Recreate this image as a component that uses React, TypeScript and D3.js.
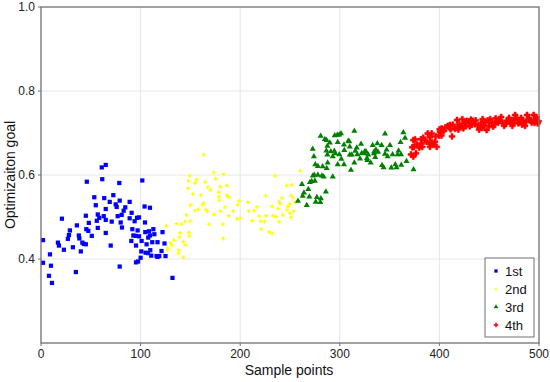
import React from "react";
import * as d3 from "d3";

type P = [number, number];

const series1: P[] = [
  [2,0.445],[2,0.391],[9,0.411],[10,0.384],[8,0.36],[11,0.343],[17,0.439],[18,0.432],[21,0.496],[23,0.422],
  [27,0.448],[28,0.457],[29,0.468],[32,0.428],[35,0.369],[36,0.48],[38,0.456],[38.5,0.449],[40,0.418],[41.5,0.439],
  [43,0.436],[45,0.435],[45,0.503],[45.5,0.471],[47.5,0.467],[48,0.486],[46,0.584],[51,0.455],[53.5,0.547],[55,0.528],
  [57,0.506],[56,0.491],[57,0.474],[58.5,0.498],[61,0.618],[65,0.624],[61.5,0.59],[63.5,0.545],[65,0.519],[63,0.502],
  [65,0.493],[65,0.462],[69,0.536],[71,0.489],[70,0.432],[72.6,0.552],[75,0.53],[76,0.524],[77,0.502],[78.6,0.581],
  [79,0.539],[80,0.487],[81,0.505],[79,0.382],[83,0.515],[84.6,0.523],[81.3,0.475],[89,0.536],[89,0.497],[91,0.51],
  [90.7,0.443],[91.7,0.471],[92.7,0.456],[94,0.49],[95,0.455],[95.4,0.432],[96.4,0.498],[97,0.468],[98.4,0.499],[98.4,0.454],
  [95.4,0.392],[97.4,0.394],[100,0.403],[100.7,0.418],[101.7,0.587],[101,0.443],[104,0.525],[104.4,0.487],[104.7,0.464],[106,0.435],
  [105,0.415],[107.7,0.451],[108.4,0.466],[109.4,0.522],[109.4,0.456],[107.4,0.414],[109.7,0.421],[111.7,0.44],[112.8,0.471],[113.8,0.459],
  [110.7,0.408],[116,0.407],[117,0.405],[118.7,0.407],[117,0.44],[122,0.464],[121,0.419],[124,0.437],[125,0.407],[132,0.355],
];

const series2: P[] = [
  [125.8,0.479],[127,0.421],[133.5,0.445],[136,0.484],[138,0.414],[138.5,0.421],[139,0.452],[139.5,0.462],[141,0.483],[143,0.404],
  [143,0.441],[144.6,0.489],[145,0.433],[146,0.505],[148.6,0.463],[149,0.455],[150,0.49],[150,0.528],[147.6,0.568],[149.3,0.598],
  [148,0.586],[152.6,0.555],[154.6,0.515],[154.6,0.581],[156,0.589],[158,0.518],[160.6,0.552],[162,0.529],[163.3,0.533],[163.3,0.648],
  [165,0.583],[165.7,0.517],[166.7,0.513],[167.4,0.571],[168.7,0.483],[170,0.564],[173.4,0.606],[173.7,0.506],[175.4,0.591],[178.4,0.559],
  [178.7,0.548],[179,0.54],[180,0.572],[180,0.514],[182.4,0.483],[183,0.449],[183.4,0.602],[185,0.524],[186.7,0.575],[186.7,0.552],
  [188.4,0.547],[188.4,0.503],[192.8,0.514],[197,0.495],[197.5,0.529],[198.8,0.538],[200,0.497],[207.8,0.535],[208.5,0.514],[212,0.491],
  [214,0.515],[216.9,0.524],[219,0.502],[221,0.471],[220.6,0.49],[224.6,0.489],[225.9,0.503],[225.6,0.551],[229,0.464],[232,0.461],
  [232,0.525],[233,0.503],[234.9,0.598],[236,0.501],[238,0.52],[239,0.489],[239,0.536],[240,0.532],[242,0.545],[242.7,0.505],
  [246.7,0.575],[247,0.517],[248,0.525],[249.7,0.531],[250,0.509],[251,0.551],[251,0.499],[251.7,0.576],[253,0.546],[253.7,0.514],
  [255,0.535],[260.3,0.61],[131.5,0.433],[127,0.426],[130,0.438],
];

const series3: P[] = [
  [258,0.538],[262,0.578],[262.7,0.55],[264,0.558],[266.8,0.528],[268.4,0.566],[269.4,0.548],[270,0.583],[271.8,0.585],[273,0.598],
  [275,0.586],[275.8,0.536],[277,0.547],[274.4,0.6],[278,0.6],[280.4,0.535],[281,0.544],[282,0.598],[283.8,0.596],[286,0.56],
  [292.9,0.596],[272.8,0.662],[274,0.644],[275.4,0.625],[278,0.621],[280.8,0.693],[282.8,0.62],[285,0.685],[286.8,0.683],[287.5,0.669],
  [286.5,0.658],[287.5,0.648],[287.8,0.629],[286.8,0.616],[290,0.677],[291,0.656],[292.9,0.644],[294.9,0.694],[294.5,0.657],[295.5,0.651],
  [297.9,0.678],[297.5,0.695],[299.5,0.696],[301.2,0.699],[297.9,0.625],[299.5,0.649],[301.5,0.638],[304.2,0.672],[304.2,0.625],[304.5,0.659],
  [308.5,0.681],[309.5,0.68],[310,0.648],[310,0.667],[311.2,0.612],[312,0.648],[314.6,0.705],[314.6,0.629],[315.6,0.657],[317.6,0.649],
  [317,0.665],[320.3,0.639],[321.3,0.674],[322,0.652],[324.6,0.651],[325,0.656],[326.3,0.656],[327.3,0.64],[327.6,0.635],[328.6,0.648],
  [331,0.629],[333,0.671],[334.3,0.651],[334.6,0.656],[335.6,0.642],[337.7,0.675],[338.4,0.655],[336.3,0.66],[342,0.671],[342.4,0.623],
  [344,0.618],[345.4,0.698],[345.4,0.65],[347,0.66],[348,0.644],[350.4,0.671],[351.7,0.617],[353,0.649],[355.7,0.625],[357,0.618],
  [358,0.649],[359,0.658],[361,0.678],[361.5,0.649],[361.7,0.624],[363.8,0.701],[365.5,0.688],[367,0.633],[374,0.613],
];

const series4: P[] = [
  [371.5,0.649],[372.8,0.666],[375.5,0.685],[377.5,0.673],[379.8,0.665],[381.5,0.685],[383.8,0.689],[382.8,0.667],[387.2,0.679],[388.3,0.699],
  [390.6,0.69],[392.3,0.678],[393.9,0.673],[396.3,0.692],[400.3,0.709],[399.6,0.694],[402,0.694],[408.3,0.717],[411.3,0.709],[412.7,0.692],
  [415.7,0.71],[417.7,0.731],[420,0.721],[422.4,0.717],[424,0.711],[423,0.733],[426.7,0.717],[427.4,0.729],[429.7,0.727],[431.7,0.732],
  [433.7,0.729],[435.7,0.721],[438.4,0.717],[439.8,0.708],[441.8,0.723],[443.4,0.733],[444.4,0.717],[447.4,0.707],[449.8,0.717],[451,0.733],
  [453,0.724],[456.5,0.735],[459,0.725],[460.8,0.729],[463,0.725],[465,0.717],[467.6,0.729],[469.9,0.736],[472,0.723],[473.2,0.717],
  [474.2,0.731],[476,0.743],[477.6,0.735],[479.2,0.723],[482,0.736],[484.2,0.729],[486,0.717],[488,0.743],[490,0.735],[492.7,0.725],
  [494.7,0.743],[496.7,0.733],[498.7,0.723],
  [373.8,0.644],[376.5,0.652],[373.8,0.683],[382.2,0.675],[390,0.675],[390.6,0.667],[392.3,0.699],[395.6,0.679],[397.3,0.667],[400.6,0.703],
  [402.3,0.711],[410.6,0.719],[374.5,0.667],[404.5,0.705],[406,0.713],[413.5,0.72],[418.5,0.714],[425.5,0.724],[430.5,0.716],[436.5,0.73],
  [446,0.726],[448.5,0.73],[455,0.721],[457.5,0.727],[462,0.738],[466.5,0.722],[471,0.728],[475,0.724],[480.5,0.73],[483,0.72],
  [487,0.727],[491.5,0.73],[495.5,0.724],[497.5,0.738],[499.5,0.728],[454,0.715],[442.5,0.712],[432.5,0.72],[419,0.708],[385.5,0.683],
];

const legendLabels = ["1st", "2nd", "3rd", "4th"];
const xTicks = [0, 100, 200, 300, 400, 500];
const yTicks = [0.4, 0.6, 0.8, 1.0];

const W = 550, H = 382;
const x = d3.scaleLinear().domain([0, 500]).range([41, 539]);
const y = d3.scaleLinear().domain([0.2, 1.0]).range([343, 7]);

const styles = [
  { color: "#0000ff", type: d3.symbolSquare, size: 18 },
  { color: "#ffff00", type: d3.symbolCross, size: 9 },
  { color: "#008000", type: d3.symbolTriangle, size: 16 },
  { color: "#ff0000", type: d3.symbolCross, size: 19 },
];

export default function App() {
  const all = [series1, series2, series3, series4];
  const sym = styles.map((s) => d3.symbol().type(s.type).size(s.size)() as string);
  const legSym = styles.map((s) => d3.symbol().type(s.type).size(s.size * 0.6)() as string);
  const font = "Liberation Sans, Arial, sans-serif";
  return (
    <svg width={W} height={H} style={{ position: "absolute", left: 0, top: 0, background: "#fff" }} fontFamily={font}>
      <rect x={0} y={0} width={W} height={H} fill="#fff" />
      {xTicks.slice(1, -1).map((t) => (
        <line key={"gx" + t} x1={x(t)} x2={x(t)} y1={y(0.2)} y2={y(1)} stroke="#e6e6e6" strokeWidth={1} />
      ))}
      {yTicks.slice(0, -1).map((t) => (
        <line key={"gy" + t} x1={x(0)} x2={x(500)} y1={y(t)} y2={y(t)} stroke="#e6e6e6" strokeWidth={1} />
      ))}
      {all.map((data, i) =>
        data.map((d, j) => (
          <path key={i + "-" + j} d={sym[i]} transform={`translate(${x(d[0])},${y(d[1])})`} fill={styles[i].color}
            stroke={i === 3 ? "#ff0000" : "none"} strokeWidth={i === 3 ? 0.6 : 0} strokeLinejoin="round" />
        ))
      )}
      <rect x={x(0)} y={y(1)} width={x(500) - x(0)} height={y(0.2) - y(1)} fill="none" stroke="#707070" strokeWidth={1.3} />
      {xTicks.map((t) => (
        <g key={"xt" + t}>
          <line x1={x(t)} x2={x(t)} y1={y(0.2)} y2={y(0.2) + 3} stroke="#707070" />
          <text x={x(t)} y={358} textAnchor="middle" fontSize={12} fill="#222">{t}</text>
        </g>
      ))}
      {yTicks.map((t) => (
        <g key={"yt" + t}>
          <line x1={x(0) - 3} x2={x(0)} y1={y(t)} y2={y(t)} stroke="#707070" />
          <text x={35} y={y(t) + 4} textAnchor="end" fontSize={12} fill="#222">{t.toFixed(1)}</text>
        </g>
      ))}
      <text x={289} y={375} textAnchor="middle" fontSize={14} fill="#111">Sample points</text>
      <text transform={`translate(15,${(y(0.2) + y(1)) / 2}) rotate(-90)`} textAnchor="middle" fontSize={14} fill="#111">Optimizaiton goal</text>
      <g>
        <rect x={485} y={258} width={49} height={79} fill="#fff" stroke="#707070" strokeWidth={1} />
        {legendLabels.map((l, i) => (
          <g key={l} transform={`translate(0,${271 + i * 18})`}>
            <path d={legSym[i]} transform="translate(496,0)" fill={styles[i].color} />
            <text x={505} y={5} fontSize={13} fill="#111">{l}</text>
          </g>
        ))}
      </g>
    </svg>
  );
}
